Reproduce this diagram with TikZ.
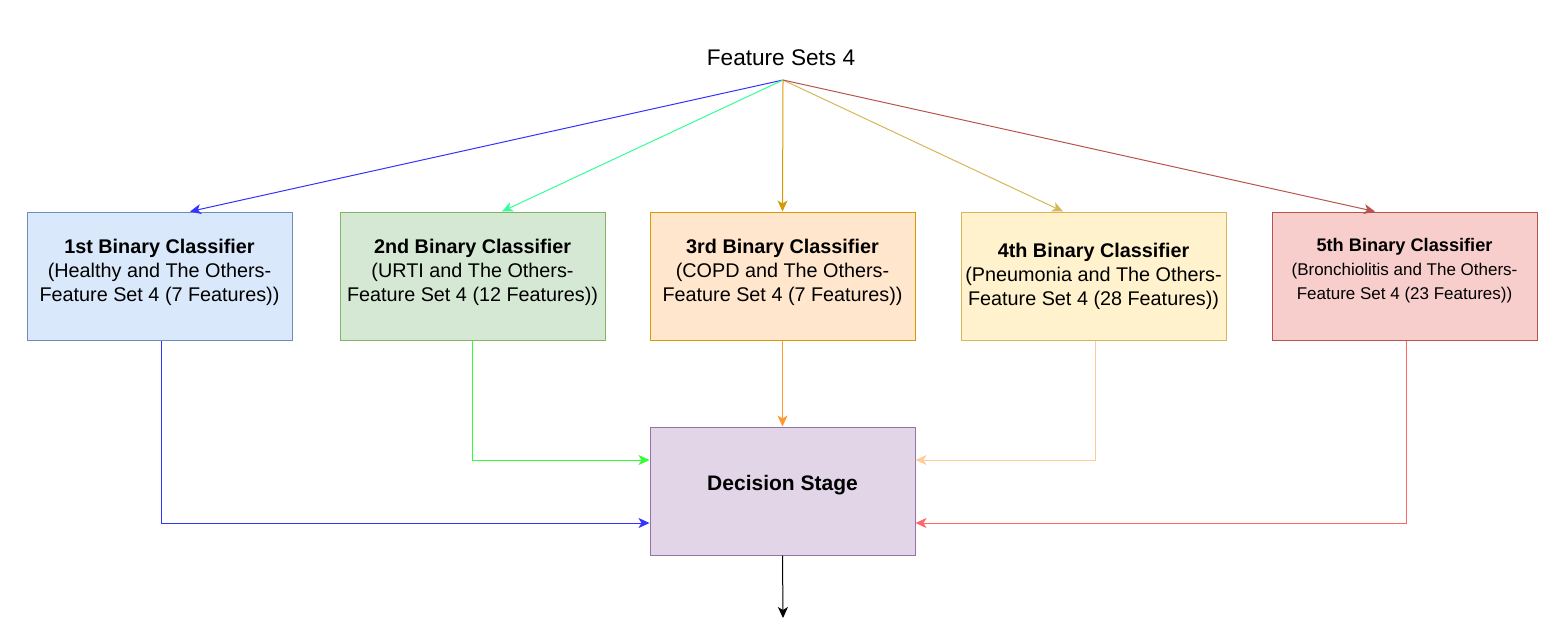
\documentclass[tikz,border=0pt]{standalone}
\usepackage{fontspec}
\setmainfont{Liberation Sans}
\usetikzlibrary{arrows.meta}
\definecolor{c1f}{HTML}{DAE8FC}\definecolor{c1d}{HTML}{6C8EBF}
\definecolor{c2f}{HTML}{D5E8D4}\definecolor{c2d}{HTML}{82B366}
\definecolor{c3f}{HTML}{FFE6CC}\definecolor{c3d}{HTML}{D79B00}
\definecolor{c4f}{HTML}{FFF2CC}\definecolor{c4d}{HTML}{D6B656}
\definecolor{c5f}{HTML}{F8CECC}\definecolor{c5d}{HTML}{B85450}
\definecolor{c6f}{HTML}{E1D5E7}\definecolor{c6d}{HTML}{9673A6}
\definecolor{l1}{HTML}{3333FF}
\definecolor{l2t}{HTML}{33FF99}\definecolor{l2b}{HTML}{33FF33}
\definecolor{l3t}{HTML}{D79B00}\definecolor{l3b}{HTML}{FF9933}
\definecolor{l4t}{HTML}{D6B656}\definecolor{l4b}{HTML}{FFCC99}
\definecolor{l5t}{HTML}{B85450}\definecolor{l5b}{HTML}{FF6666}
\begin{document}
\begin{tikzpicture}[x=0.5pt,y=-0.5pt,
  box/.style={draw, line width=0.5pt, rectangle, minimum width=132.5pt, minimum height=64pt, align=center, inner sep=0pt, font=\fontsize{9.9}{12}\selectfont},
  conn/.style={line width=0.5pt, -{Stealth[length=5.5pt,width=5pt,inset=1.5pt]}}]
\useasboundingbox (0,0) rectangle (1561,639);
\node[font=\fontsize{11.3}{13}\selectfont] (title) at (781,58) {Feature Sets 4};
\coordinate (src) at (783,80);
\node[box, fill=c1f, draw=c1d] (b1) at (159.5,276) {\textbf{1st Binary Classifier}\\(Healthy and The Others-\\Feature Set 4 (7 Features))\\[-6pt]};
\node[box, fill=c2f, draw=c2d] (b2) at (472.5,276) {\textbf{2nd Binary Classifier}\\(URTI and The Others-\\Feature Set 4 (12 Features))\\[-6pt]};
\node[box, fill=c3f, draw=c3d] (b3) at (782.5,276) {\textbf{3rd Binary Classifier}\\(COPD and The Others-\\Feature Set 4 (7 Features))\\[-6pt]};
\node[box, fill=c4f, draw=c4d] (b4) at (1093.5,276) {\textbf{4th Binary Classifier}\\(Pneumonia and The Others-\\Feature Set 4 (28 Features))};
\node[box, fill=c5f, draw=c5d, font=\fontsize{8.5}{12}\selectfont] (b5) at (1404.5,276) {{\fontsize{9.1}{12}\selectfont\textbf{5th Binary Classifier}}\\(Bronchiolitis and The Others-\\Feature Set 4 (23 Features))\\[-5pt]};
\node[box, fill=c6f, draw=c6d, font=\bfseries\fontsize{10.5}{12}\selectfont] (dec) at (782.5,491) {Decision Stage\\[-4pt]};
% top connectors
\draw[conn, l1] (src) -- ([xshift=15.25pt]b1.north);
\draw[conn, l2t] (src) -- ([xshift=14.75pt]b2.north);
\draw[conn, l3t] (src) -- (b3.north);
\draw[conn, l4t] (src) -- ([xshift=-15.25pt]b4.north);
\draw[conn, l5t] (src) -- ([xshift=-14.75pt]b5.north);
% bottom connectors
\draw[conn, l1] ([xshift=0.75pt]b1.south) |- ([yshift=-16pt]dec.west);
\draw[conn, l2b] (b2.south) |- ([yshift=15.5pt]dec.west);
\draw[conn, l3b] (b3.south) -- (dec.north);
\draw[conn, l4b] ([xshift=0.75pt]b4.south) |- ([yshift=15.5pt]dec.east);
\draw[conn, l5b] ([xshift=0.75pt]b5.south) |- ([yshift=-16pt]dec.east);
\coordinate (out) at (783,618);
\draw[conn, black] (dec.south) -- (out);
\end{tikzpicture}
\end{document}
